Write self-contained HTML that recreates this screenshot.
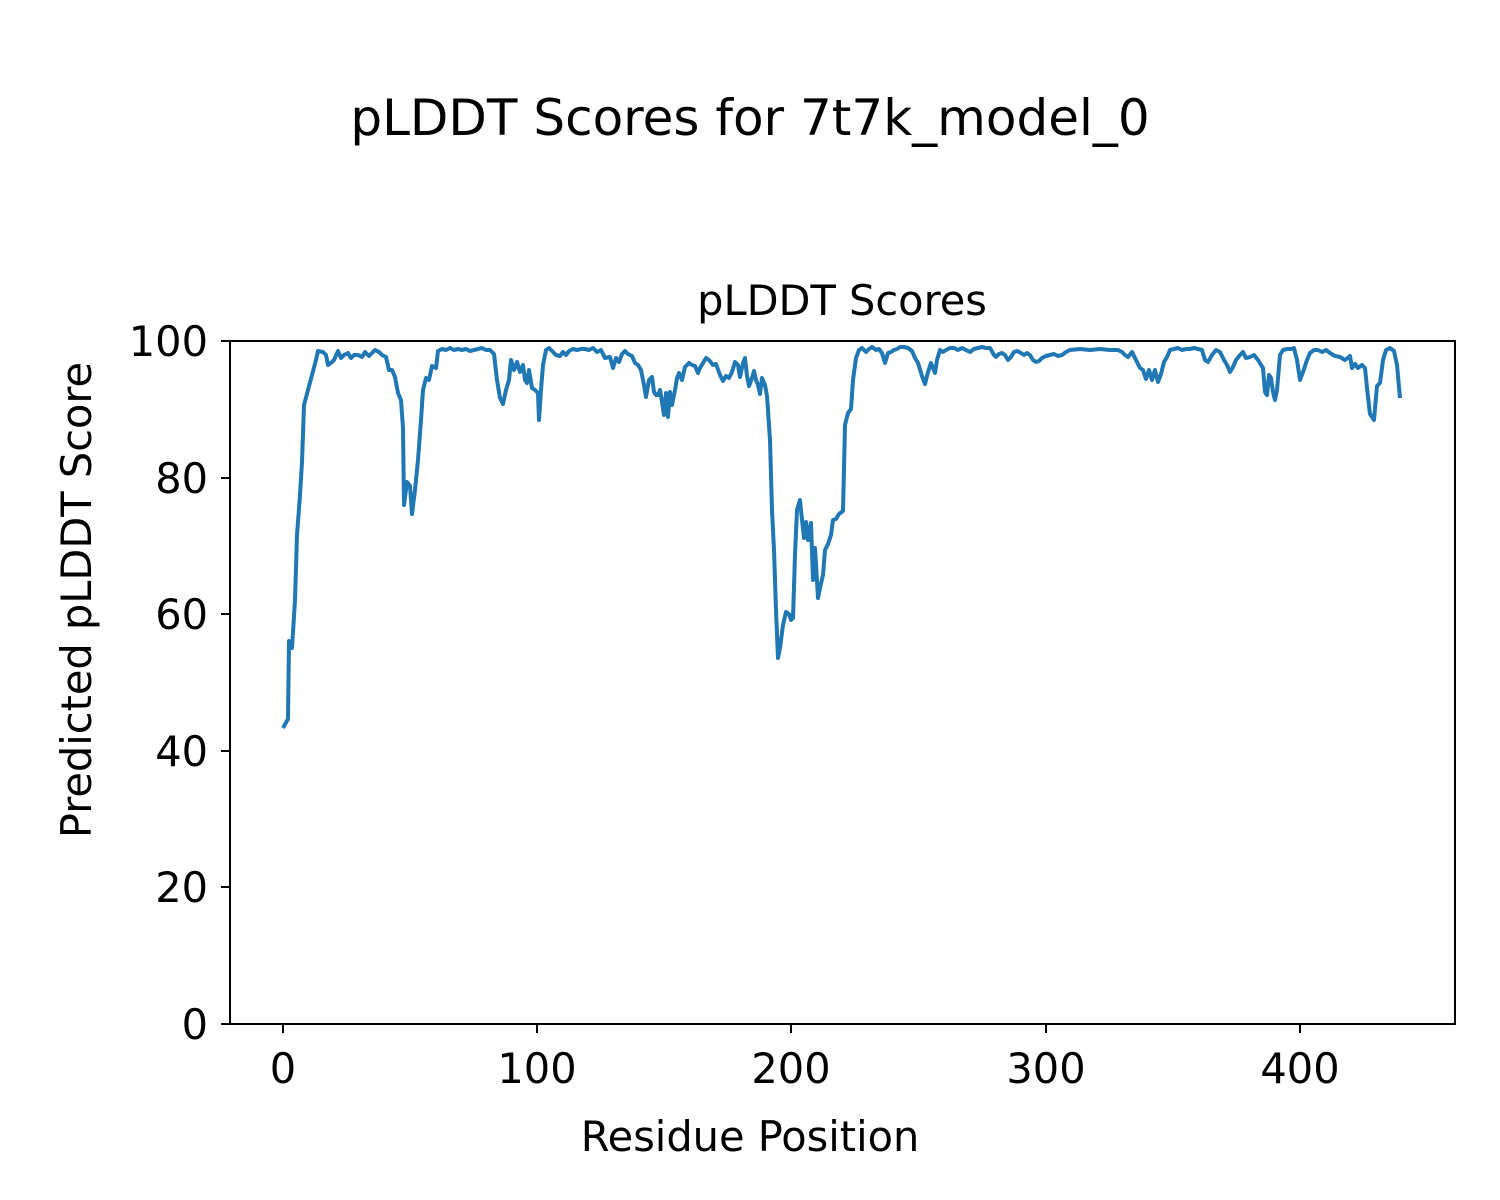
<!DOCTYPE html>
<html><head><meta charset="utf-8"><style>body{margin:0;background:#fff}svg{display:block}</style></head>
<body>
<svg width="1500" height="1200" xmlns="http://www.w3.org/2000/svg" font-family="'DejaVu Sans','Liberation Sans',sans-serif">
<rect width="1500" height="1200" fill="#fff"/>
<text x="750" y="135" font-size="50" text-anchor="middle" fill="#000">pLDDT Scores for 7t7k_model_0</text>
<text x="842" y="315" font-size="41.5" text-anchor="middle" fill="#000">pLDDT Scores</text>
<polyline fill="none" stroke="#1f77b4" stroke-width="4" stroke-linejoin="round" points="283,728 288,719 289,641 292,648 295,600 297,535 300,495 302,462 304,405 308,390 312,375 316,360 318,351 323,352 326,355 328,365 332,362 334,360 338,351 341,358 344,355 348,353 351,358 354,355 358,355 362,357 365,352 369,356 372,353 375,350 379,352 382,355 386,357 389,370 392,370 395,377 398,393 401,400 403,428 404,505 407,482 410,486 412,514 415,490 418,460 421,420 423,390 426,378 429,380 432,366 436,368 438,351 442,349 446,350 450,348 454,350 458,349 462,350 466,349 470,351 474,350 478,349 482,348 486,350 490,350 494,354 497,380 500,398 503,404 506,390 509,380 511,360 514,370 517,362 520,372 523,365 525,380 527,383 529,370 532,388 535,390 538,393 539,420 541,390 543,365 546,350 549,348 553,352 556,355 560,356 563,352 566,355 569,351 573,349 577,350 581,349 585,349 589,350 593,348 597,352 601,350 605,358 610,357 613,368 616,358 619,362 622,354 625,351 628,354 632,356 635,363 638,365 641,370 644,385 646,397 649,380 652,377 654,392 656,395 658,395 660,390 662,402 664,415 666,393 668,417 670,392 672,405 675,390 677,378 679,373 682,380 685,367 689,363 692,365 695,366 698,373 700,368 703,363 706,358 709,360 713,365 716,364 720,375 723,381 726,376 729,378 732,372 735,362 738,365 740,377 743,363 745,358 747,376 749,386 752,378 754,371 756,380 758,385 760,394 762,378 765,385 767,396 770,440 772,510 774,550 776,610 778,658 780,648 783,625 786,612 789,614 791,620 793,618 795,555 797,510 800,500 802,520 804,538 806,522 808,540 811,523 813,580 815,548 818,598 820,588 823,575 825,550 828,544 831,535 833,520 836,519 839,514 843,511 845,425 848,413 851,409 853,380 856,358 859,350 862,348 866,352 869,349 872,347 876,350 879,349 882,353 885,363 888,353 891,352 894,350 897,349 900,347 904,347 908,348 912,351 915,358 918,363 922,376 925,384 928,372 931,363 935,373 937,360 940,350 943,352 946,350 950,348 954,348 958,350 962,348 966,350 970,352 974,349 978,348 982,347 986,348 990,348 994,355 996,357 999,354 1002,353 1005,355 1008,360 1011,357 1014,352 1017,351 1021,353 1024,355 1027,353 1030,355 1033,360 1036,362 1039,361 1042,358 1046,356 1050,355 1054,354 1058,356 1062,355 1066,352 1070,350 1080,349 1090,350 1100,349 1110,350 1118,350 1122,352 1125,355 1128,357 1132,352 1136,360 1140,368 1143,370 1146,379 1149,370 1152,380 1155,370 1158,382 1161,374 1164,362 1167,357 1170,350 1174,349 1178,348 1182,350 1186,349 1190,349 1194,348 1198,349 1202,350 1205,360 1208,362 1212,355 1216,350 1220,352 1224,360 1227,365 1230,372 1233,367 1236,360 1240,355 1243,352 1246,358 1250,357 1254,355 1258,360 1261,365 1263,368 1265,392 1267,395 1269,375 1271,378 1273,392 1275,400 1277,390 1280,355 1283,350 1287,349 1291,349 1294,348 1297,360 1300,380 1303,372 1307,360 1310,353 1314,350 1318,350 1322,352 1326,350 1330,353 1335,356 1340,357 1345,360 1350,356 1352,368 1355,364 1358,368 1362,365 1365,368 1367,388 1370,414 1374,420 1377,386 1380,383 1383,360 1386,350 1390,348 1394,351 1397,365 1400,398"/>
<rect x="230" y="341" width="1225" height="683" fill="none" stroke="#000" stroke-width="2"/>
<g stroke="#000" stroke-width="2">
<line x1="283" y1="1024" x2="283" y2="1033"/><line x1="537" y1="1024" x2="537" y2="1033"/><line x1="791" y1="1024" x2="791" y2="1033"/><line x1="1046" y1="1024" x2="1046" y2="1033"/><line x1="1300" y1="1024" x2="1300" y2="1033"/>
<line x1="221" y1="1024" x2="230" y2="1024"/><line x1="221" y1="887" x2="230" y2="887"/><line x1="221" y1="751" x2="230" y2="751"/><line x1="221" y1="614" x2="230" y2="614"/><line x1="221" y1="478" x2="230" y2="478"/><line x1="221" y1="341" x2="230" y2="341"/>
</g>
<g font-size="41.5" fill="#000" text-anchor="middle">
<text x="283" y="1083">0</text><text x="537" y="1083">100</text><text x="791" y="1083">200</text><text x="1046" y="1083">300</text><text x="1300" y="1083">400</text>
</g>
<g font-size="41.5" fill="#000" text-anchor="end">
<text x="208" y="1039">0</text><text x="208" y="902">20</text><text x="208" y="766">40</text><text x="208" y="629">60</text><text x="208" y="493">80</text><text x="208" y="356">100</text>
</g>
<text x="750" y="1151" font-size="41.5" text-anchor="middle">Residue Position</text>
<text transform="translate(91,600) rotate(-90)" font-size="41.5" text-anchor="middle">Predicted pLDDT Score</text>
</svg>
</body></html>
